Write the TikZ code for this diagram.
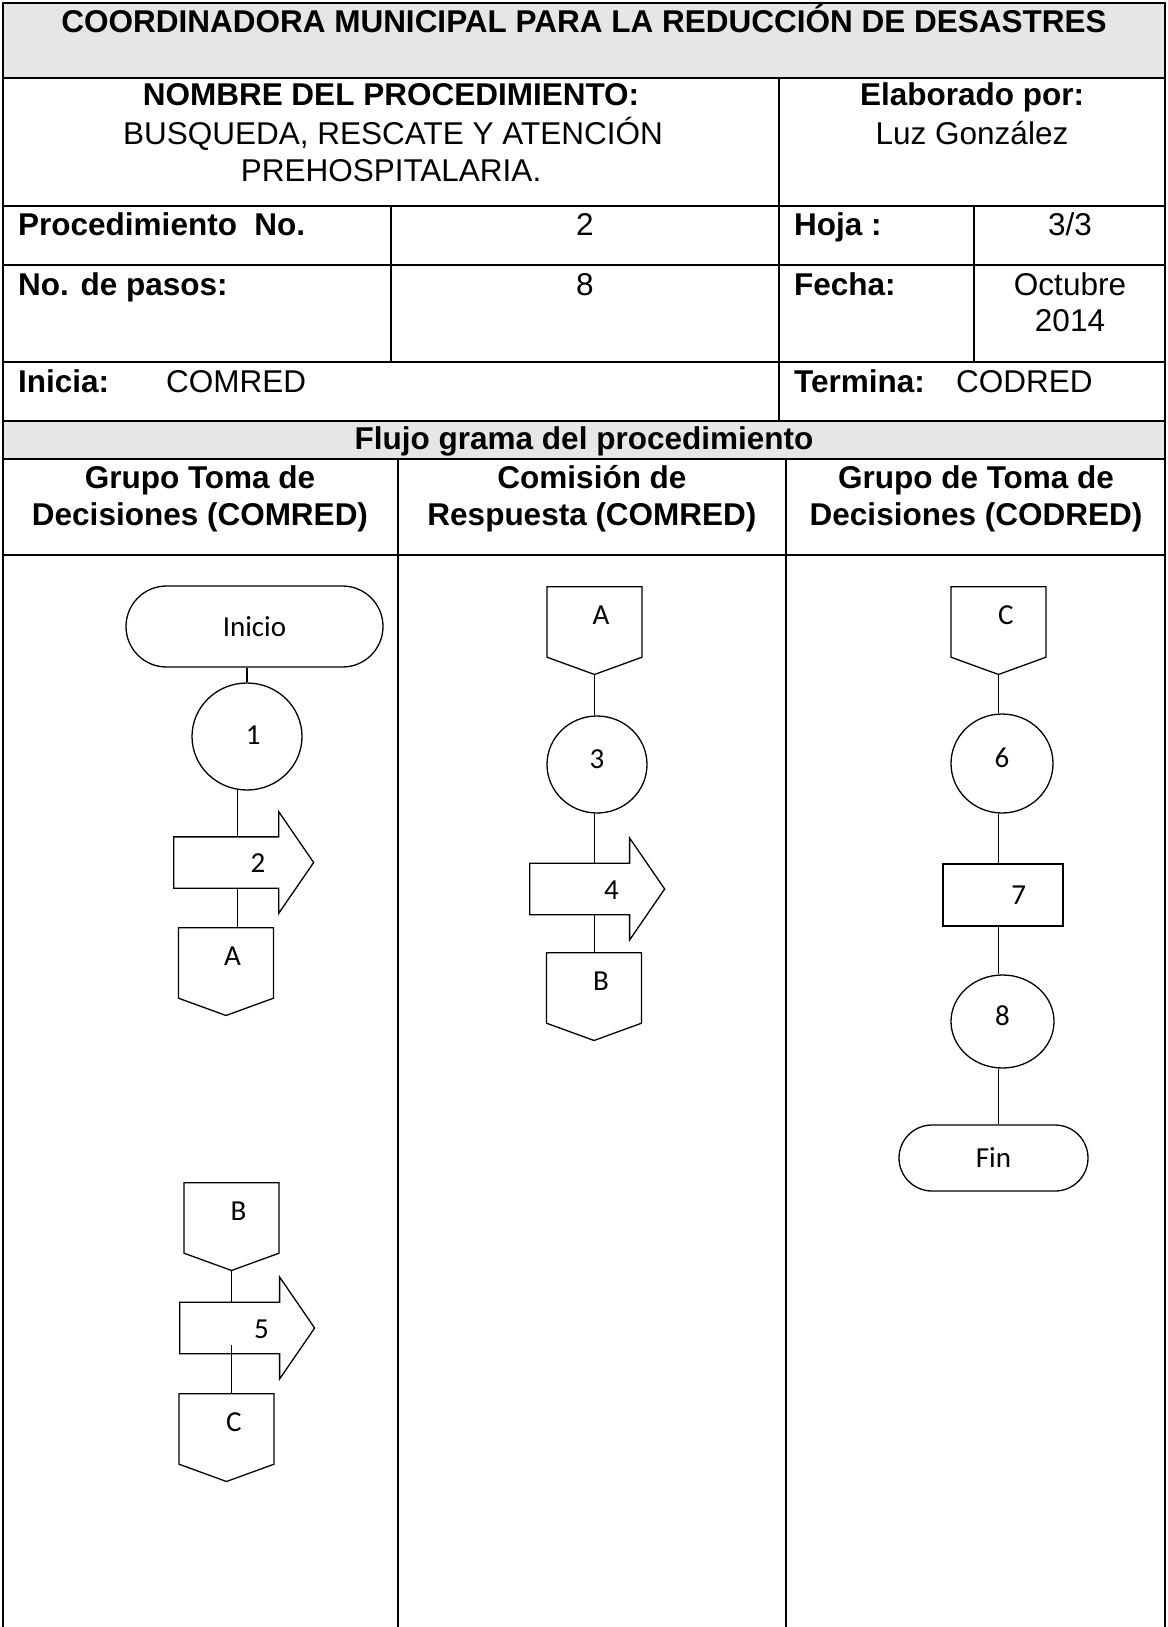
\documentclass[tikz,border=0pt]{standalone}
\usepackage{fontspec}
\setmainfont{Liberation Sans}
\newfontfamily\calibrifont{Carlito}
\usepackage{tikz}
\usetikzlibrary{shapes.geometric, shapes.arrows, shapes.symbols, shapes.misc, calc}
\definecolor{cellgray}{HTML}{E6E6E6}

\begin{document}
\begin{tikzpicture}[x=1pt, y=-1pt, grid/.style={line width=2pt}, link/.style={line width=1.3pt},
  txt/.style={inner sep=0pt, anchor=base, font=\fontsize{31.5}{36}\selectfont},
  txtb/.style={txt, font=\fontsize{31.5}{36}\selectfont\bfseries},
  flow/.style={draw, line width=1.3pt, inner sep=0pt, font=\fontsize{29}{34}\selectfont\calibrifont},
  terminal/.style={flow, rounded rectangle},
  stepcircle/.style={flow, ellipse, text height=19pt, text depth=12pt},
  stepbox/.style={flow, rectangle},
  sendarrow/.style={flow, single arrow, single arrow head extend=25pt, single arrow tip angle=111, anchor=tail,
    text width=61pt, align=right, text height=20pt, text depth=0pt, inner ysep=15pt},
  offpage/.style={flow, signal, signal to=south, signal from=nowhere, signal pointer angle=140, minimum width=95pt, minimum height=76pt, anchor=north,
    text width=30pt, align=right, text height=19pt, text depth=14pt}]
  \useasboundingbox (0,0) rectangle (1167,1627);

  \fill[cellgray] (3,3) rectangle (1165,78);
  \fill[cellgray] (3,420.7) rectangle (1165,459);
  \draw[grid] (3,1627) -- (3,3) -- (1165,3) -- (1165,1627);
  \draw[grid] (3,78) -- (1165,78);
  \draw[grid] (3,205.5) -- (1165,205.5);
  \draw[grid] (3,264.7) -- (1165,264.7);
  \draw[grid] (3,361.7) -- (1165,361.7);
  \draw[grid] (3,420.7) -- (1165,420.7);
  \draw[grid] (3,459) -- (1165,459);
  \draw[grid] (3,555) -- (1165,555);
  \draw[grid] (779,78) -- (779,420.7);
  \draw[grid] (391,205.5) -- (391,361.7);
  \draw[grid] (974,205.5) -- (974,361.7);
  \draw[grid] (398,459) -- (398,1627);
  \draw[grid] (786,459) -- (786,1627);

  \node[txtb] (title) at (584,33) {COORDINADORA MUNICIPAL PARA LA REDUCCIÓN DE DESASTRES};
  \node[txtb] (nombre) at (391,106) {NOMBRE DEL PROCEDIMIENTO:};
  \node[txt] (proc1) at (393,144) {BUSQUEDA, RESCATE Y ATENCIÓN};
  \node[txt] (proc2) at (391,181) {PREHOSPITALARIA.};
  \node[txtb] (elab) at (972,106) {Elaborado por:};
  \node[txt] (autor) at (972,144) {Luz González};
  \node[txtb, anchor=base west] (pnum) at (18,235) {Procedimiento\ \ No.};
  \node[txt] (pval) at (585,235) {2};
  \node[txtb, anchor=base west] (hoja) at (794,235) {Hoja :};
  \node[txt] (hval) at (1070,235) {3/3};
  \node[txtb, anchor=base west] (pasos) at (18,295) {No. de pasos:};
  \node[txt] (pasval) at (585,295) {8};
  \node[txtb, anchor=base west] (fecha) at (794,295) {Fecha:};
  \node[txt] (fval1) at (1070,295) {Octubre};
  \node[txt] (fval2) at (1070,331) {2014};
  \node[txtb, anchor=base west] (inicia) at (18,392) {Inicia:};
  \node[txt, anchor=base west] (inival) at (166,392) {COMRED};
  \node[txtb, anchor=base west] (termina) at (794,392) {Termina:};
  \node[txt, anchor=base west] (terval) at (956,392) {CODRED};
  \node[txtb] (flujo) at (584,449) {Flujo grama del procedimiento};
  \node[txtb] (lane1a) at (200,488) {Grupo Toma de};
  \node[txtb] (lane1b) at (200,525) {Decisiones (COMRED)};
  \node[txtb] (lane2a) at (592,488) {Comisión de};
  \node[txtb] (lane2b) at (592,525) {Respuesta (COMRED)};
  \node[txtb] (lane3a) at (976,488) {Grupo de Toma de};
  \node[txtb] (lane3b) at (976,525) {Decisiones (CODRED)};

  \node[terminal, minimum width=257pt, minimum height=81pt] (ini) at (254.5,626.5) {Inicio};
  \node[stepcircle, minimum width=110pt, minimum height=107pt, text depth=4pt, text width=27pt, align=right] (c1) at (247,736.5) {1};
  \node[sendarrow, minimum height=140pt, minimum width=99pt] (a2) at (173,862.5) {2};
  \node[offpage] (oA1) at (226,927) {A};
  \node[offpage] (oB1) at (231.5,1182) {B};
  \node[sendarrow, minimum height=135pt, minimum width=102pt] (a5) at (179,1328) {5};
  \node[offpage] (oC1) at (226.5,1393) {C};

  \node[offpage] (oA2) at (594.5,586) {A};
  \node[stepcircle, minimum width=100pt, minimum height=97pt] (c3) at (597,764.5) {3};
  \node[sendarrow, minimum height=135pt, minimum width=102pt] (a4) at (529,889) {4};
  \node[offpage] (oB2) at (594,952) {B};

  \node[offpage] (oC3) at (998.5,586) {C};
  \node[stepcircle, minimum width=102pt, minimum height=99pt] (c6) at (1002,763.5) {6};
  \node[stepbox, minimum width=120pt, minimum height=62pt, text width=46pt, align=right] (r7) at (1003,895) {7};
  \node[stepcircle, minimum width=103pt, minimum height=93pt] (c8) at (1002.5,1021.5) {8};
  \node[terminal, minimum width=189pt, minimum height=66pt] (fin) at (993.5,1158) {Fin};

  \draw[link] (ini.south -| c1.north) -- (c1.north);
  \draw[link] (c1.-100) -- (c1.-100 |- a2.north);
  \draw[link] (a2.south -| c1.-100) -- (c1.-100 |- oA1.north);
  \draw[link] (oB1.south) -- (oB1.south |- a5.north);
  \draw[link] ([yshift=9pt]a5.south -| oB1.south) -- (oB1.south |- oC1.north);

  \draw[link] (oA2.south) -- (oA2.south |- c3.north);
  \draw[link] (c3.south -| oA2.south) -- (oA2.south |- a4.north);
  \draw[link] (a4.south -| oA2.south) -- (oA2.south |- oB2.north);

  \draw[link] (oC3.south) -- (oC3.south |- c6.north);
  \draw[link] (c6.south -| oC3.south) -- (oC3.south |- r7.north);
  \draw[link] (r7.south -| oC3.south) -- (oC3.south |- c8.north);
  \draw[link] (c8.south -| oC3.south) -- (oC3.south |- fin.north);
\end{tikzpicture}
\end{document}
